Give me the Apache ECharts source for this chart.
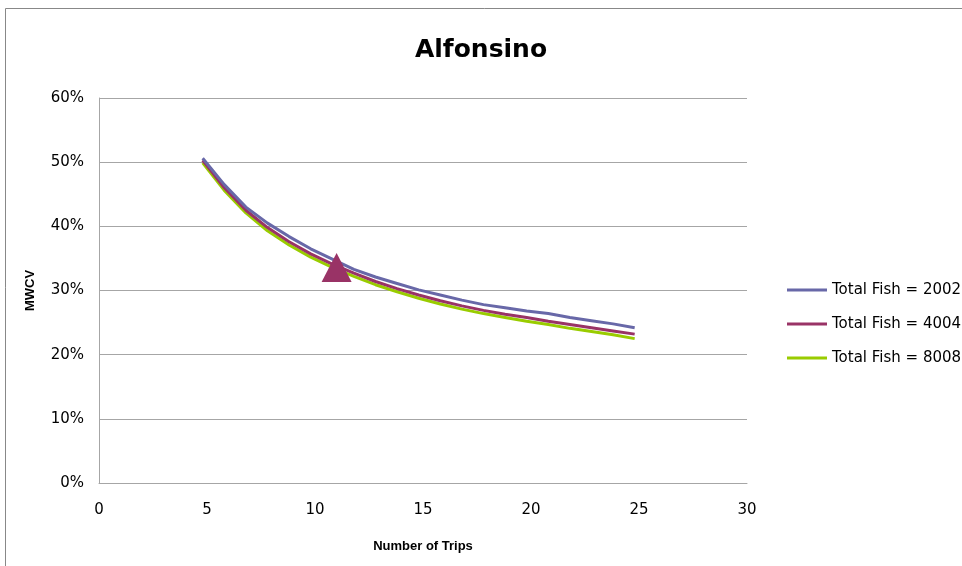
<!DOCTYPE html>
<html>
<head>
<meta charset="utf-8">
<script src="https://cdn.jsdelivr.net/npm/echarts@6/dist/echarts.min.js"></script>
<style>html,body{margin:0;padding:0;background:#fff}#c{width:962px;height:566px}</style>
</head>
<body>
<div id="c"></div>
<script>
const trips = [4.8,5.8,6.8,7.8,8.8,9.8,10.8,11.8,12.8,13.8,14.8,15.8,16.8,17.8,18.8,19.8,20.8,21.8,22.8,23.8,24.8];
const fish2002 = [50.6,46.5,43.0,40.5,38.4,36.5,34.9,33.3,32.1,31.1,30.1,29.3,28.5,27.8,27.3,26.8,26.4,25.8,25.3,24.8,24.2];
const fish4004 = [50.3,46.0,42.5,39.8,37.6,35.7,34.1,32.7,31.4,30.3,29.3,28.4,27.6,26.9,26.3,25.8,25.2,24.7,24.2,23.7,23.2];
const fish8008 = [49.9,45.6,42.1,39.3,37.1,35.2,33.6,32.2,30.9,29.8,28.8,27.9,27.1,26.4,25.8,25.2,24.7,24.1,23.6,23.1,22.5];
const markerPoint = [11, 33.6];
const seriesNames = ['Total Fish = 2002','Total Fish = 4004','Total Fish = 8008'];
const colors = ['#6868a8','#993366','#99cc00'];

const pair = (xs, ys) => xs.map((x, i) => [x, ys[i]]);
const chart = echarts.init(document.getElementById('c'));
const lineSeries = [fish2002, fish4004, fish8008].map((ys, i) => ({
  name: seriesNames[i], type: 'line', data: pair(trips, ys),
  symbol: 'none', showSymbol: false, z: 3 - i + 2,
  lineStyle: { color: colors[i], width: 3 }, itemStyle: { color: colors[i] }
}));
chart.setOption({
  animation: false,
  graphic: [{ type: 'rect', shape: { x: 5.5, y: 8.5, width: 1000, height: 600 },
    style: { fill: 'none', stroke: '#888888', lineWidth: 1 }, silent: true }],
  title: { text: 'Alfonsino', left: 'center', top: 33,
    textStyle: { fontFamily: 'DejaVu Sans', fontWeight: 'bold', fontSize: 25, color: '#000' } },
  grid: { left: 99, right: 215, top: 98, bottom: 83, containLabel: false },
  legend: {
    orient: 'vertical', left: 782, top: 277, itemWidth: 40, itemHeight: 3, itemGap: 18,
    icon: 'rect',
    data: seriesNames,
    textStyle: { fontFamily: 'DejaVu Sans', fontSize: 15, color: '#000', lineHeight: 16 }
  },
  xAxis: {
    type: 'value', min: 0, max: 30, interval: 5,
    name: 'Number of Trips', nameLocation: 'middle', nameGap: 57,
    nameTextStyle: { fontFamily: 'Liberation Sans', fontWeight: 'bold', fontSize: 13, color: '#000' },
    axisLine: { show: true, lineStyle: { color: '#a6a6a6', width: 1 } },
    axisTick: { show: false }, splitLine: { show: false },
    axisLabel: { fontFamily: 'DejaVu Sans', fontSize: 15, color: '#000', margin: 20 }
  },
  yAxis: {
    type: 'value', min: 0, max: 60, interval: 10,
    name: 'MWCV', nameLocation: 'middle', nameGap: 62, nameRotate: 90,
    nameTextStyle: { fontFamily: 'Liberation Sans', fontWeight: 'bold', fontSize: 13, color: '#000' },
    axisLine: { show: true, lineStyle: { color: '#a6a6a6', width: 1 } },
    axisTick: { show: false },
    splitLine: { show: true, lineStyle: { color: '#a6a6a6', width: 1 } },
    axisLabel: { fontFamily: 'DejaVu Sans', fontSize: 15, color: '#000', margin: 15, formatter: '{value}%' }
  },
  series: lineSeries.concat([{
    name: 'marker', type: 'scatter', data: [markerPoint], symbol: 'triangle',
    symbolSize: [30, 29], itemStyle: { color: '#993366', opacity: 1 }, z: 10
  }])
});
</script>
</body>
</html>
